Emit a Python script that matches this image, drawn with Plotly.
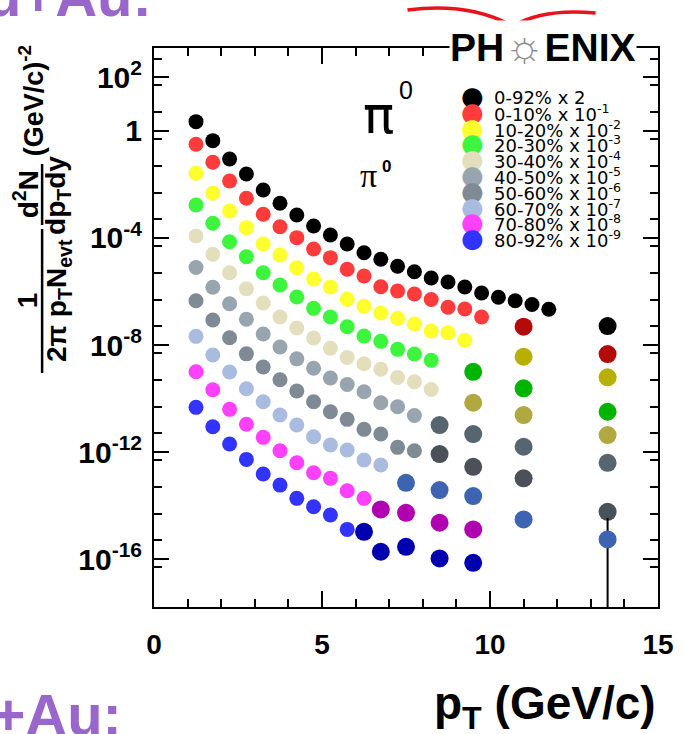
import plotly.graph_objects as go

# ---------------- data ----------------
PT = [1.25, 1.75, 2.25, 2.75, 3.25, 3.75, 4.25, 4.75, 5.25, 5.75, 6.25,
      6.75, 7.25, 7.75, 8.25, 8.75, 9.25, 9.75, 10.25, 10.75, 11.25, 11.75]

LABELS = ["0-92% x 2", "0-10% x 10<sup>-1</sup>", "10-20% x 10<sup>-2</sup>",
          "20-30% x 10<sup>-3</sup>", "30-40% x 10<sup>-4</sup>", "40-50% x 10<sup>-5</sup>",
          "50-60% x 10<sup>-6</sup>", "60-70% x 10<sup>-7</sup>", "70-80% x 10<sup>-8</sup>",
          "80-92% x 10<sup>-9</sup>"]
COLORS = ["#000000", "#ff3b3b", "#ffff2e", "#3cf53c", "#e3dfbd",
          "#99a5ae", "#7f8a94", "#aabbe0", "#ff40ff", "#3333ff"]
DARK_COLORS = ["#000000", "#b30a0a", "#b8b000", "#00b400", "#b0a840",
               "#576570", "#4c5059", "#3d64b0", "#b000b0", "#0000b0"]

Y_0_92 = [2.23, 0.434, 0.0898, 0.0247, 6.23e-3, 1.98e-3, 7.24e-4, 2.81e-4, 1.29e-4, 5.97e-5,
          2.82e-5, 1.60e-5, 8.75e-6, 5.50e-6, 3.20e-6, 2.27e-6, 1.47e-6, 8.79e-7, 6.07e-7,
          4.53e-7, 3.27e-7, 2.16e-7]
Y_0_10 = [0.318, 0.0676, 0.0135, 3.05e-3, 7.69e-4, 2.64e-4, 1.03e-4, 3.88e-5, 1.84e-5, 6.76e-6,
          3.80e-6, 1.51e-6, 1.04e-6, 8.07e-7, 5.02e-7, 2.57e-7, 2.22e-7, 1.11e-7]
Y_10_20 = [0.0262, 4.69e-3, 1.02e-3, 2.43e-4, 5.97e-5, 2.31e-5, 7.76e-6, 2.93e-6, 1.47e-6,
           5.11e-7, 2.80e-7, 1.57e-7, 9.96e-8, 6.10e-8, 3.34e-8, 2.88e-8, 1.50e-8]
Y_20_30 = [1.71e-3, 3.55e-4, 7.27e-5, 2.00e-5, 5.05e-6, 1.75e-6, 6.23e-7, 2.35e-7, 1.11e-7,
           4.83e-8, 2.17e-8, 1.37e-8, 6.90e-9, 4.61e-9, 2.68e-9]
Y_30_40 = [1.19e-4, 2.46e-5, 5.05e-6, 1.27e-6, 3.72e-7, 1.11e-7, 4.32e-8, 1.83e-8, 7.53e-9,
           3.41e-9, 2.00e-9, 1.24e-9, 6.10e-10, 4.25e-10, 2.17e-10]
Y_40_50 = [7.89e-6, 1.44e-6, 3.50e-7, 9.14e-8, 2.58e-8, 8.42e-9, 3.05e-9, 1.35e-9, 5.84e-10,
           3.34e-10, 1.80e-10, 6.97e-11, 4.93e-11, 2.31e-11]
Y_50_60 = [4.53e-7, 8.60e-8, 1.87e-8, 4.69e-9, 1.51e-9, 5.05e-10, 1.91e-10, 7.59e-11, 3.21e-11,
           1.67e-11, 7.06e-12, 4.71e-12, 1.50e-12, 1.12e-12]
Y_60_70 = [2.11e-8, 4.23e-9, 9.79e-10, 2.31e-10, 7.59e-11, 2.42e-11, 1.02e-11, 3.73e-12,
           1.83e-12, 1.19e-12, 5.02e-13, 3.27e-13]
Y_70_80 = [1.00e-9, 2.13e-10, 3.94e-11, 1.09e-11, 3.55e-12, 1.12e-12, 3.98e-13, 1.68e-13,
           1.04e-13, 3.57e-14, 1.86e-14]
Y_80_92 = [4.69e-11, 8.83e-12, 1.99e-12, 5.33e-13, 1.51e-13, 5.83e-14, 1.86e-14, 9.02e-15,
           4.42e-15, 1.29e-15]

# high-pT (coarse bin) points, drawn in darker shades
X_HI = [[13.5],
        [11.0, 13.5],
        [11.0, 13.5],
        [9.5, 11.0, 13.5],
        [9.5, 11.0, 13.5],
        [8.5, 9.5, 11.0, 13.5],
        [8.5, 9.5, 11.0, 13.5],
        [7.5, 8.5, 9.5, 11.0, 13.5],
        [6.75, 7.5, 8.5, 9.5],
        [6.25, 6.75, 7.5, 8.5, 9.5]]
Y_HI = [[5.13e-8],
        [4.83e-8, 4.61e-9],
        [3.65e-9, 6.21e-10],
        [1.00e-9, 2.40e-10, 3.21e-11],
        [6.97e-11, 2.42e-11, 4.32e-12],
        [1.02e-11, 4.71e-12, 1.58e-12, 3.98e-13],
        [8.41e-13, 2.82e-13, 1.04e-13, 5.86e-15],
        [7.11e-14, 3.79e-14, 2.26e-14, 3.05e-15, 5.45e-16],
        [7.21e-15, 5.38e-15, 2.28e-15, 1.29e-15],
        [1.05e-15, 1.88e-16, 2.88e-16, 1.06e-16, 7.27e-17]]
ERR_60_70_HI_PLUS = [0, 0, 0, 0, 2.9e-15]
ERR_60_70_HI_MINUS = [0, 0, 0, 0, 5.45e-16]

Y_LOW = [Y_0_92, Y_0_10, Y_10_20, Y_20_30, Y_30_40, Y_40_50, Y_50_60, Y_60_70, Y_70_80, Y_80_92]

Y_LABEL_VALS = [1e2, 1, 1e-4, 1e-8, 1e-12, 1e-16]
Y_LABEL_TEXT = ["10<sup>2</sup>", "1", "10<sup>-4</sup>", "10<sup>-8</sup>",
                "10<sup>-12</sup>", "10<sup>-16</sup>"]
Y_DECADES = [10.0 ** k for k in range(-17, 4)]
X_TICKS = [0, 5, 10, 15]

# ---------------- geometry helpers (layout only) ----------------
L, R, T, B = 154, 663, 48, 607
W, H = 686, 734
Y_RANGE = [-17.79, 3.10]


def px(x):
    return (x - L) / (R - L)


def py(y):
    return (B - y) / (B - T)


fig = go.Figure()

for i in range(len(LABELS)):
    yl = Y_LOW[i]
    fig.add_trace(go.Scatter(
        x=PT[:len(yl)], y=yl, mode="markers",
        marker=dict(size=15, color=COLORS[i], line=dict(width=0)),
        name=LABELS[i], showlegend=False, hoverinfo="x+y"))
for i in range(len(LABELS)):
    kw = {}
    if i == 7:
        kw["error_y"] = dict(type="data", symmetric=False, array=ERR_60_70_HI_PLUS,
                             arrayminus=ERR_60_70_HI_MINUS, color="black",
                             thickness=2, width=0)
    fig.add_trace(go.Scatter(
        x=X_HI[i], y=Y_HI[i], mode="markers",
        marker=dict(size=18, color=DARK_COLORS[i], line=dict(width=0)),
        name=LABELS[i], showlegend=False, hoverinfo="x+y", **kw))

FONT = "Liberation Sans"

fig.update_layout(
    width=W, height=H,
    margin=dict(l=L, r=W - R, t=T, b=H - B),
    paper_bgcolor="white", plot_bgcolor="white",
    showlegend=False,
    font=dict(family=FONT, color="black"),
)

fig.update_xaxes(
    range=[0, 15], showgrid=False, zeroline=False,
    showline=True, linecolor="black", linewidth=2, mirror="allticks",
    ticks="inside", ticklen=16, tickwidth=2, tickcolor="black",
    tickmode="array", tickvals=X_TICKS, ticktext=[str(v) for v in X_TICKS],
    tickfont=dict(family=FONT, size=28, color="black", weight="bold"),
    ticklabelstandoff=11,
    minor=dict(ticks="inside", ticklen=8, tickwidth=1.5, tickcolor="black", dtick=1, showgrid=False),
)

fig.update_yaxes(
    type="log", range=Y_RANGE, showgrid=False, zeroline=False,
    showline=True, linecolor="black", linewidth=2, mirror="allticks",
    ticks="inside", ticklen=15, tickwidth=2, tickcolor="black",
    tickmode="array", tickvals=Y_LABEL_VALS, ticktext=Y_LABEL_TEXT,
    tickfont=dict(family=FONT, size=30, color="black", weight="bold"),
    ticklabelstandoff=4,
    minor=dict(ticks="inside", ticklen=8, tickwidth=1.5, tickcolor="black",
               tickmode="array", tickvals=[5 * v for v in Y_DECADES[:-1]], showgrid=False),
)

# unlabeled decade ticks on an overlaid copy of the y axis
fig.update_layout(yaxis2=dict(
    type="log", range=Y_RANGE, overlaying="y", anchor="x", side="left",
    showgrid=False, zeroline=False, showline=False, showticklabels=False,
    ticks="inside", ticklen=15, tickwidth=2, tickcolor="black", mirror="allticks",
    tickmode="array", tickvals=Y_DECADES))

ann = []
shapes = []

# legend made of text
for i, (lab, col) in enumerate(zip(LABELS, COLORS)):
    yy = 96 + 15.8 * i
    ann.append(dict(xref="paper", yref="paper", x=px(476), y=py(yy), text="●",
                    showarrow=False, xanchor="center", yanchor="middle",
                    font=dict(family="DejaVu Sans", size=26, color=col)))
    ann.append(dict(xref="paper", yref="paper", x=px(495), y=py(yy + 1), text=lab,
                    showarrow=False, xanchor="left", yanchor="middle",
                    font=dict(family="DejaVu Sans", size=18, color="black")))

# pi0 labels
ann.append(dict(xref="paper", yref="paper", x=px(381), y=py(115), text="π",
                showarrow=False, xanchor="center", yanchor="middle",
                font=dict(family="DejaVu Sans", size=52, color="black")))
ann.append(dict(xref="paper", yref="paper", x=px(409), y=py(90), text="0",
                showarrow=False, xanchor="center", yanchor="middle",
                font=dict(family=FONT, size=25, color="black")))
ann.append(dict(xref="paper", yref="paper", x=px(371), y=py(175), text="π",
                showarrow=False, xanchor="center", yanchor="middle",
                font=dict(family="Liberation Serif", size=34, color="black")))
ann.append(dict(xref="paper", yref="paper", x=px(389), y=py(166), text="<b>0</b>",
                showarrow=False, xanchor="center", yanchor="middle",
                font=dict(family=FONT, size=17, color="black")))

# x-axis title
ann.append(dict(xref="paper", yref="paper", x=px(663), y=py(706),
                text="p<sub>T</sub> (GeV/c)", showarrow=False,
                xanchor="right", yanchor="middle",
                font=dict(family=FONT, size=46, color="black", weight="bold")))


# y-axis title: built from rotated pieces
def rot(text, x, y, size):
    return dict(xref="paper", yref="paper", x=px(x), y=py(y), text=text, showarrow=False,
                textangle=-90, xanchor="center", yanchor="middle",
                font=dict(family=FONT, size=size, color="black", weight="bold"))


ann.append(rot("(GeV/c)<sup>-2</sup>", 30, 101, 27))
ann.append(rot("d<sup>2</sup>N", 25, 194, 28))
ann.append(rot("dp<sub>T</sub>dy", 57, 195, 28))
ann.append(rot("1", 26, 300, 28))
ann.append(rot("2π p<sub>T</sub>N<sub>evt</sub>", 57, 300, 28))
shapes.append(dict(type="line", xref="paper", yref="paper",
                   x0=px(41), x1=px(41), y0=py(164), y1=py(225),
                   line=dict(color="black", width=2.5)))
shapes.append(dict(type="line", xref="paper", yref="paper",
                   x0=px(41), x1=px(41), y0=py(229), y1=py(373),
                   line=dict(color="black", width=2.5)))

# PHENIX logo (text) with red swoosh
ann.append(dict(xref="paper", yref="paper", x=px(547), y=py(46),
                text="PH<span style='color:#8c8c8c;font-weight:normal;font-size:44px'>☼</span>ENIX",
                showarrow=False, xanchor="center", yanchor="middle", bgcolor="white",
                borderpad=0,
                font=dict(family=FONT, size=39, color="black", weight="bold")))
path = "M {:.4f},{:.4f} Q {:.4f},{:.4f} {:.4f},{:.4f} Q {:.4f},{:.4f} {:.4f},{:.4f}".format(
    px(410), py(10), px(472), py(2), px(516), py(26), px(548), py(8), px(600), py(13))
shapes.append(dict(type="path", xref="paper", yref="paper", path=path,
                   line=dict(color="#e8141c", width=3.5)))

# purple slide text fragments (partially outside the picture)
ann.append(dict(xref="paper", yref="paper", x=px(154), y=py(30), text="Au+Au:",
                showarrow=False, xanchor="right", yanchor="bottom",
                font=dict(family=FONT, size=58, color="#9966cc", weight="bold")))
ann.append(dict(xref="paper", yref="paper", x=px(124), y=py(680), text="d+Au:",
                showarrow=False, xanchor="right", yanchor="top",
                font=dict(family=FONT, size=58, color="#9966cc", weight="bold")))

fig.update_layout(annotations=ann, shapes=shapes)

fig.write_html("out.html")
